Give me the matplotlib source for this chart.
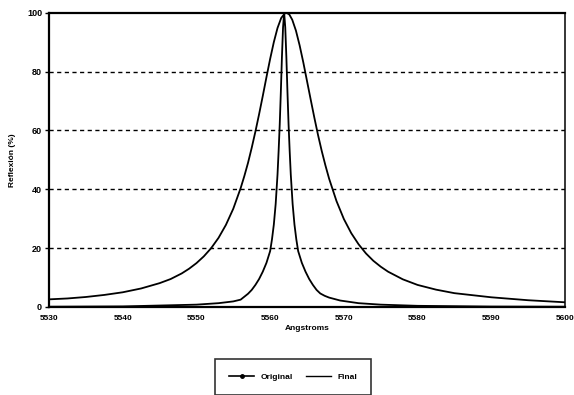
import matplotlib
matplotlib.use("Agg")
from matplotlib import pyplot as plt
from matplotlib.lines import Line2D

# wide curve (Original)
x_orig = [5530, 5532.5, 5535, 5537.5, 5540, 5542.5, 5545, 5546.5, 5548, 5549, 5550,
          5551, 5552, 5553, 5554, 5555, 5556, 5556.5, 5557, 5557.5, 5558, 5558.5,
          5559, 5559.5, 5560, 5560.5, 5561, 5561.5, 5562, 5562.2, 5562.6, 5563,
          5563.5, 5564, 5564.5, 5565, 5565.5, 5566, 5566.5, 5567, 5567.5, 5568,
          5569, 5570, 5571, 5572, 5573, 5574, 5575, 5576, 5578, 5580, 5582.5,
          5585, 5590, 5595, 5600]
y_orig = [2.6, 2.9, 3.4, 4.1, 5.0, 6.3, 8.1, 9.5, 11.4, 13.0, 14.9,
          17.2, 20.0, 23.5, 27.9, 33.4, 40.4, 44.5, 49.0, 54.1, 59.6, 65.5,
          71.7, 78.1, 84.3, 90.0, 94.8, 98.2, 99.8, 100.0, 99.4, 97.6,
          93.9, 88.9, 83.1, 76.8, 70.5, 64.3, 58.4, 53.0, 48.1, 43.6,
          36.0, 29.9, 25.1, 21.3, 18.2, 15.7, 13.7, 12.0, 9.4, 7.5, 5.9,
          4.7, 3.3, 2.3, 1.6]

# narrow curve (Final)
x_final = [5530, 5540, 5545, 5550, 5553, 5555, 5556, 5557, 5557.5, 5558, 5558.5,
           5559, 5559.5, 5560, 5560.25, 5560.5, 5560.75, 5561, 5561.15, 5561.3,
           5561.45, 5561.6, 5561.75, 5561.9, 5562.05, 5562.2, 5562.35, 5562.5,
           5562.65, 5562.8, 5563.05, 5563.3, 5563.55, 5563.8, 5564.3, 5564.8,
           5565.3, 5565.8, 5566.3, 5566.8, 5567.4, 5568, 5569.5, 5572, 5575,
           5580, 5590, 5600]
y_final = [0.1, 0.2, 0.5, 0.8, 1.3, 1.9, 2.5, 4.5, 5.8, 7.5, 9.5,
           12, 15, 19, 23, 28, 35, 45, 53, 62,
           73, 85, 95, 100, 95, 85, 73, 62,
           53, 45, 35, 28, 23, 19, 15, 12,
           9.5, 7.5, 5.8, 4.6, 3.8, 3.2, 2.2, 1.3, 0.8,
           0.4, 0.15, 0.1]

xticks = [5530, 5540, 5550, 5560, 5570, 5580, 5590, 5600]
yticks = [0, 20, 40, 60, 80, 100]

plt.rcParams['font.family'] = ['Liberation Sans', 'DejaVu Sans']

fig = plt.figure(figsize=(5.74, 3.95), dpi=100)
ax = fig.add_axes([49/574, 1-307/395, (565-49)/574, (307-12.7)/395])

for yv in yticks[1:-1]:
    ax.axhline(yv, color='black', lw=1.0, ls=(0, (3, 2.5)), zorder=1)

ax.plot(x_orig, y_orig, color='black', lw=1.3, zorder=3)
ax.plot(x_final, y_final, color='black', lw=1.3, zorder=3)

ax.set_xlim(5530, 5600)
ax.set_ylim(0, 100)
ax.set_xticks(xticks)
ax.set_yticks(yticks)
ax.tick_params(axis='x', length=0, pad=6, labelsize=6)
ax.tick_params(axis='y', length=3, width=1, pad=2, labelsize=6.5)
for lab in ax.get_xticklabels() + ax.get_yticklabels():
    lab.set_fontweight('bold')

for side in ['left', 'bottom', 'top']:
    ax.spines[side].set_linewidth(1.6)
ax.spines['right'].set_linewidth(1.1)

ax.set_xlabel("Angstroms", fontsize=6, fontweight='bold', labelpad=2)
ax.set_ylabel("Reflexión (%)", fontsize=6, fontweight='bold', labelpad=8)

handles = [Line2D([], [], color='black', lw=1.2, marker='o', markersize=2.5),
           Line2D([], [], color='black', lw=1.0)]
leg = fig.legend(handles, ["Original", "Final"], loc='upper center',
                 bbox_to_anchor=(293/574, 1-355/395), ncol=2,
                 frameon=True, fancybox=False, edgecolor='black',
                 handlelength=3.0, columnspacing=1.5, borderpad=1.7,
                 prop={'weight': 'bold', 'size': 6})
leg.get_frame().set_linewidth(1.2)

fig.savefig("out.png", dpi=100)
